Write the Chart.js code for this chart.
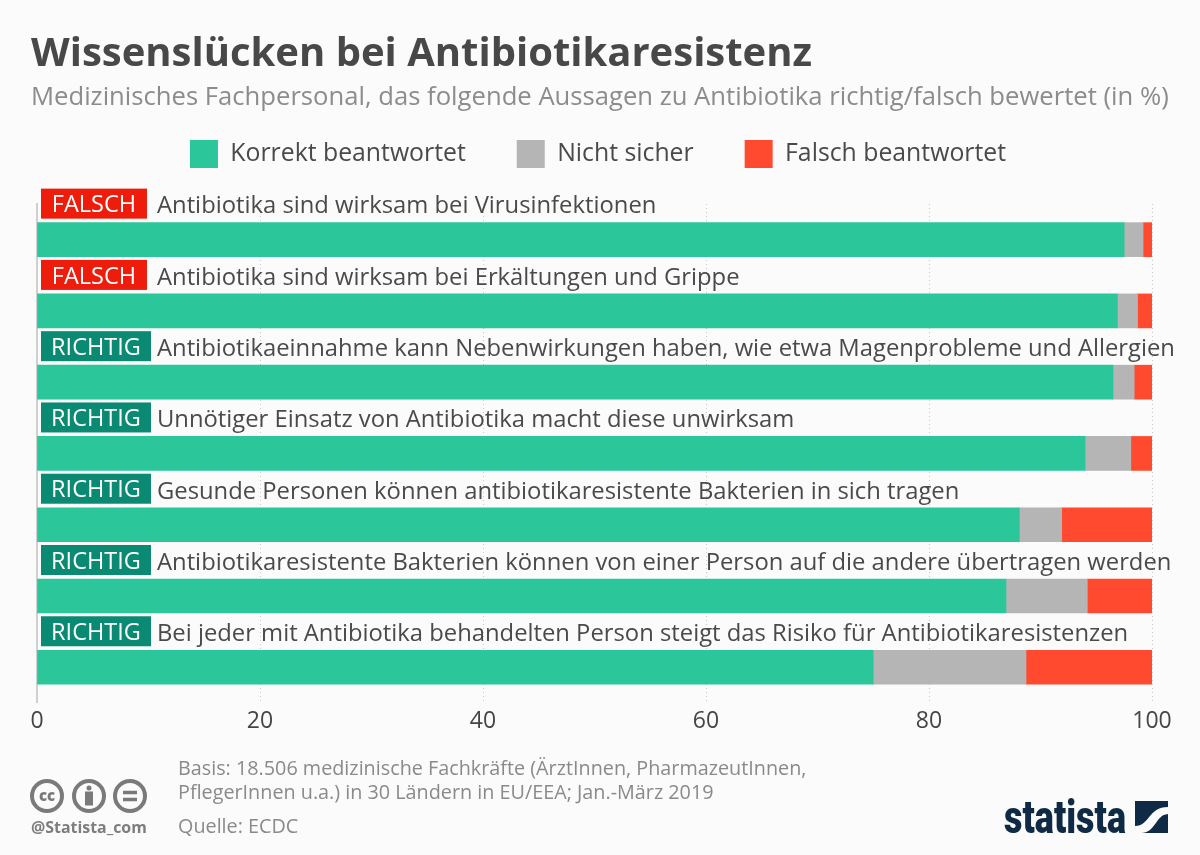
<!DOCTYPE html>
<html lang="de">
<head>
<meta charset="utf-8">
<title>Wissenslücken bei Antibiotikaresistenz</title>
<script src="https://cdn.jsdelivr.net/npm/chart.js@4/dist/chart.umd.min.js"></script>
<style>
  html, body { margin: 0; background: #fbfbfb; }
  body { position: relative; width: 1200px; height: 855px; overflow: hidden; font-family: "Open Sans", sans-serif; }
  canvas { position: absolute; left: 0; top: 0; }
  .txt { position: absolute; white-space: nowrap; }
  #titel { left: 31px; top: 26px; font-size: 40px; line-height: 50px; font-weight: 700; color: #484848; }
  #untertitel { left: 31px; top: 78px; font-size: 25.65px; line-height: 36px; color: #8c8c8c; }
  #basis { left: 178px; top: 756px; font-size: 19.8px; line-height: 24px; color: #8a8a8a; }
  #quelle { left: 178px; top: 814px; font-size: 19.8px; line-height: 24px; color: #8a8a8a; }
  #handle { left: 31px; top: 818px; font-size: 15.9px; line-height: 18px; font-weight: 700; color: #7d7d7d; }
  svg { position: absolute; }
</style>
</head>
<body>
<canvas id="grafica" width="1200" height="855"></canvas>

<div class="txt" id="titel">Wissenslücken bei Antibiotikaresistenz</div>
<div class="txt" id="untertitel">Medizinisches Fachpersonal, das folgende Aussagen zu Antibiotika richtig/falsch bewertet (in %)</div>
<div class="txt" id="basis">Basis: 18.506 medizinische Fachkräfte (ÄrztInnen, PharmazeutInnen,<br>PflegerInnen u.a.) in 30 Ländern in EU/EEA; Jan.-März 2019</div>
<div class="txt" id="quelle">Quelle: ECDC</div>
<div class="txt" id="handle">@Statista_com</div>

<!-- CC Icons -->
<svg style="left:28px;top:776px" width="124" height="40" fill="none" stroke="#7a7a7a" stroke-width="4">
  <circle cx="19" cy="20" r="15"/>
  <circle cx="61" cy="20" r="15"/>
  <circle cx="102" cy="20" r="15"/>
  <text x="19" y="25" text-anchor="middle" font-family="Open Sans" font-weight="800" font-size="15" fill="#7a7a7a" stroke="none">cc</text>
  <circle cx="61" cy="12" r="2.5" fill="#7a7a7a" stroke="none"/>
  <rect x="57" y="15.5" width="8" height="14" fill="#7a7a7a" stroke="none"/>
  <path d="M95 16.5h14M95 23.5h14" stroke-width="3.5"/>
</svg>

<!-- Statista Logo -->
<svg style="left:1000px;top:795px" width="172" height="44">
  <text x="4" y="38" textLength="122" lengthAdjust="spacingAndGlyphs" font-family="Roboto" font-weight="900" font-size="46" fill="#0f2a44">statista</text>
  <rect x="135" y="6" width="33" height="32" fill="#0f2a44"/>
  <path d="M135 38 V31 C150 31 148 12 168 12 V19 C155 20 156 38 141 38 Z" fill="#fbfbfb"/>
</svg>

<script>
// Datos
const categorias = [
  'Antibiotika sind wirksam bei Virusinfektionen',
  'Antibiotika sind wirksam bei Erkältungen und Grippe',
  'Antibiotikaeinnahme kann Nebenwirkungen haben, wie etwa Magenprobleme und Allergien',
  'Unnötiger Einsatz von Antibiotika macht diese unwirksam',
  'Gesunde Personen können antibiotikaresistente Bakterien in sich tragen',
  'Antibiotikaresistente Bakterien können von einer Person auf die andere übertragen werden',
  'Bei jeder mit Antibiotika behandelten Person steigt das Risiko für Antibiotikaresistenzen'
];
const bewertung = ['FALSCH', 'FALSCH', 'RICHTIG', 'RICHTIG', 'RICHTIG', 'RICHTIG', 'RICHTIG'];
const korrekt = [97.5, 96.9, 96.5, 94.0, 88.1, 86.9, 75.0];
const nichtSicher = [1.7, 1.8, 1.9, 4.1, 3.8, 7.3, 13.7];
const falsch = [0.8, 1.3, 1.6, 1.9, 8.1, 5.8, 11.3];

// Etiqueta y texto de cada pregunta encima de su barra
const etiquetasPlugin = {
  id: 'etiquetas',
  afterDraw(chart) {
    const { ctx, scales } = chart;
    categorias.forEach((texto, i) => {
      const y = scales.y.getPixelForValue(i) - 36;
      const esFalsch = bewertung[i] === 'FALSCH';
      ctx.save();
      ctx.fillStyle = esFalsch ? '#ee1c0b' : '#0b8a73';
      ctx.fillRect(41, y - 15, esFalsch ? 106 : 110, 30);
      ctx.textBaseline = 'middle';
      ctx.textAlign = 'center';
      ctx.fillStyle = '#ffffff';
      ctx.font = '23.5px "Open Sans"';
      ctx.fillText(bewertung[i], esFalsch ? 94 : 96, y + 2);
      ctx.textAlign = 'left';
      ctx.fillStyle = '#4a4a4a';
      ctx.font = '23.8px "Open Sans"';
      ctx.fillText(texto, 157, y + 3);
      ctx.restore();
    });
  }
};

// Se ajusta el alto de la leyenda para que no empuje el área del gráfico
const leyendaPlugin = {
  id: 'altoLeyenda',
  beforeLayout(chart) {
    const leyenda = chart.legend;
    if (leyenda.fitOriginal) return;
    leyenda.fitOriginal = leyenda.fit;
    leyenda.fit = function () {
      this.fitOriginal();
      this.height = 115;
    };
  },
  afterLayout(chart) {
    // la leyenda va centrada en el lienzo, no en el área de las barras
    chart.legend.right += 7;
  }
};

new Chart(document.getElementById('grafica'), {
  type: 'bar',
  data: {
    labels: categorias,
    datasets: [
      { label: 'Korrekt beantwortet', data: korrekt, backgroundColor: '#2bc79b' },
      { label: 'Nicht sicher', data: nichtSicher, backgroundColor: '#b5b5b5' },
      { label: 'Falsch beantwortet', data: falsch, backgroundColor: '#ff4a30' }
    ]
  },
  options: {
    responsive: false,
    animation: false,
    indexAxis: 'y',
    layout: { padding: { top: 89, left: 37, right: 48, bottom: 114.5 } },
    datasets: { bar: { barThickness: 34, borderWidth: 0 } },
    plugins: {
      tooltip: { enabled: false },
      title: { display: false },
      legend: {
        position: 'top',
        labels: {
          boxWidth: 28,
          boxHeight: 28,
          padding: 51,
          color: '#4a4a4a',
          font: { family: '"Open Sans"', size: 24.8 }
        }
      }
    },
    scales: {
      x: {
        stacked: true,
        min: 0,
        max: 100,
        ticks: {
          stepSize: 20,
          padding: 5,
          color: '#454545',
          font: { family: '"Open Sans"', size: 23 }
        },
        grid: { color: '#c8c8c8', lineWidth: 1, drawTicks: false },
        border: { display: false, dash: [1, 3] }
      },
      y: {
        stacked: true,
        ticks: { display: false },
        grid: { display: false, drawTicks: false },
        border: { display: true, color: '#cfcfcf', width: 2 }
      }
    }
  },
  plugins: [etiquetasPlugin, leyendaPlugin]
});
</script>
</body>
</html>
